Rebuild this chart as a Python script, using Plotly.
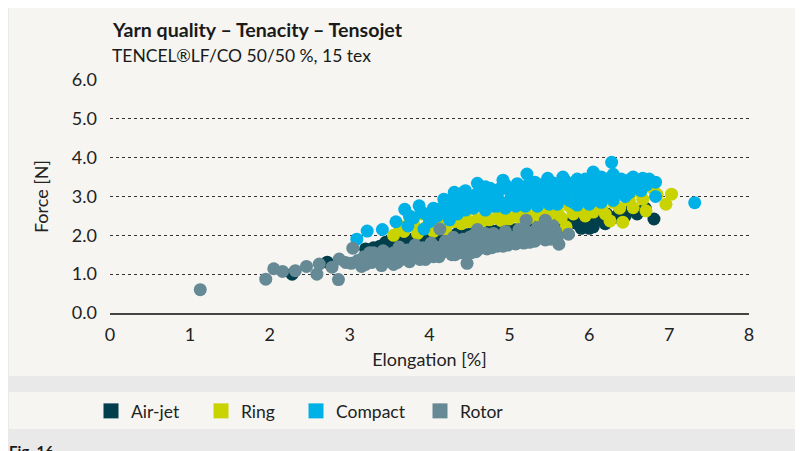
import plotly.graph_objects as go

# Tensojet tenacity, estimated from the figure
airjet_x = [2.28, 2.72, 3.2, 3.3, 3.38, 3.45, 3.52, 3.6, 3.68, 3.75, 3.85, 3.95, 4.05, 4.15, 4.25,
            4.35, 4.45, 4.55, 4.65, 4.75, 4.85, 4.95, 5.05, 5.15, 5.25, 5.35, 5.45, 5.5, 5.58, 5.65,
            5.7, 5.72, 5.8, 5.85, 5.9, 5.92, 6.0, 6.0, 6.05, 6.1, 6.15, 6.2, 6.22, 6.3, 6.38, 6.45,
            6.52, 6.6, 6.7, 6.81]
airjet_y = [1.0, 1.31, 1.65, 1.68, 1.72, 1.82, 1.78, 1.85, 1.8, 1.9, 1.88, 1.95, 1.9, 2.0, 1.98,
            2.05, 2.02, 2.1, 2.08, 2.15, 2.12, 2.2, 2.15, 2.22, 2.18, 2.25, 2.2, 2.32, 2.28, 2.38,
            2.12, 2.25, 2.4, 2.3, 2.18, 2.45, 2.35, 2.18, 2.22, 2.5, 2.4, 2.3, 2.55, 2.45, 2.6, 2.5,
            2.65, 2.55, 2.7, 2.42]

ring_x = [3.55, 3.62, 3.68, 3.75, 3.8, 3.85, 3.9, 3.95, 4.0, 4.05, 4.1, 4.15, 4.2, 4.25, 4.3,
          4.35, 4.4, 4.45, 4.5, 4.55, 4.6, 4.65, 4.7, 4.75, 4.8, 4.85, 4.9, 4.95, 5.0, 5.05,
          5.1, 5.15, 5.2, 5.25, 5.3, 5.35, 5.4, 5.45, 5.5, 5.55, 5.6, 5.65, 5.71, 5.75, 5.8,
          5.85, 5.9, 5.95, 6.0, 6.05, 6.1, 6.15, 6.2, 6.26, 6.3, 6.38, 6.42, 6.45, 6.5, 6.55,
          6.6, 6.67, 6.71, 6.8, 6.85, 6.96, 7.03]
ring_y = [2.0, 2.25, 2.1, 2.45, 2.3, 2.05, 2.55, 2.2, 2.4, 2.1, 2.6, 2.3, 2.15, 2.5, 2.35,
          2.65, 2.3, 2.45, 2.35, 2.7, 2.4, 2.35, 2.55, 2.4, 2.75, 2.45, 2.38, 2.6, 2.42, 2.8,
          2.5, 2.4, 2.65, 2.45, 2.85, 2.55, 2.42, 2.7, 2.5, 2.9, 2.6, 2.45, 2.22, 2.75, 2.55,
          2.95, 2.65, 2.5, 2.8, 2.6, 3.0, 2.7, 2.55, 2.37, 2.85, 2.7, 2.34, 3.05, 2.9, 2.71,
          3.15, 2.93, 2.63, 3.2, 3.05, 2.8, 3.06]

compact_x = [3.09, 3.22, 3.41, 3.58, 3.69, 3.73, 3.87, 3.93, 3.8, 3.95, 4.0, 4.05, 4.1, 4.18, 4.2,
             4.25, 4.31, 4.3, 4.35, 4.4, 4.45, 4.5, 4.55, 4.6, 4.6, 4.65, 4.7, 4.72, 4.76, 4.8,
             4.85, 4.9, 4.92, 4.95, 5.0, 5.02, 5.08, 5.1, 5.12, 5.18, 5.22, 5.22, 5.28, 5.32, 5.35,
             5.38, 5.42, 5.48, 5.5, 5.55, 5.6, 5.62, 5.67, 5.7, 5.75, 5.8, 5.85, 5.9, 5.95, 6.0,
             6.05, 6.05, 6.1, 6.15, 6.2, 6.28, 6.3, 6.3, 6.35, 6.4, 6.45, 6.51, 6.55, 6.61, 6.67,
             6.72, 6.83, 6.83, 7.32, 4.42, 4.58, 4.88, 5.15, 5.45, 5.72, 5.98, 6.22, 6.48,
             4.35, 4.45, 4.55, 4.65, 4.7, 4.8, 4.85, 4.95, 5.0, 5.05, 5.15, 5.2, 5.25, 5.3, 5.4,
             5.45, 5.5, 5.55, 5.6, 5.65, 5.7, 5.75, 5.8, 5.85, 5.9, 5.95, 6.0, 6.05, 6.1, 6.15,
             6.2, 6.25, 6.35, 6.4, 6.45, 6.5, 6.55, 6.6, 6.65, 6.75, 4.25, 4.15, 4.05, 3.9, 3.75,
             4.5, 4.75, 5.85, 6.3, 6.0]
compact_y = [1.9, 2.11, 2.15, 2.35, 2.67, 2.24, 2.76, 2.16, 2.45, 2.55, 2.35, 2.7, 2.5, 2.93, 2.6,
             2.4, 3.11, 2.75, 2.55, 2.9, 2.65, 3.0, 2.7, 3.34, 2.85, 3.1, 2.65, 2.95, 3.21, 2.75,
             3.05, 2.85, 3.42, 2.7, 3.15, 2.95, 2.75, 3.33, 3.05, 2.85, 3.58, 3.2, 2.95, 3.37, 2.75,
             3.1, 2.9, 3.47, 3.2, 3.0, 2.8, 3.3, 3.5, 3.1, 2.9, 3.35, 3.15, 2.95, 3.45, 3.2,
             3.63, 3.0, 3.35, 2.85, 3.25, 3.88, 3.57, 3.05, 3.4, 3.2, 3.0, 3.44, 3.25, 3.2, 3.47,
             3.3, 3.37, 3.0, 2.84, 3.1, 3.05, 3.2, 3.25, 3.3, 3.35, 3.4, 3.45, 3.35,
             3.0, 3.15, 2.95, 2.8, 3.25, 3.0, 2.75, 3.3, 2.8, 3.1, 2.95, 2.75, 3.35, 3.1, 3.3,
             3.05, 2.8, 3.35, 3.1, 2.95, 3.4, 3.2, 2.85, 3.45, 3.25, 3.05, 3.4, 2.9, 3.15, 3.5,
             3.05, 3.35, 3.15, 3.45, 3.3, 3.1, 3.5, 3.35, 3.15, 3.45, 2.85, 2.7, 2.45, 2.6, 2.5,
             2.75, 2.85, 2.78, 2.9, 2.8]

rotor_x = [1.13, 1.95, 2.05, 2.16, 2.32, 2.46, 2.59, 2.62, 2.78, 2.86, 2.87, 2.95, 3.02, 3.04, 3.1,
           3.18, 3.2, 3.25, 3.3, 3.35, 3.38, 3.42, 3.45, 3.5, 3.55, 3.58, 3.62, 3.65, 3.7, 3.72,
           3.78, 3.82, 3.85, 3.9, 3.92, 3.98, 4.02, 4.05, 4.1, 4.13, 4.15, 4.2, 4.22, 4.28, 4.3,
           4.35, 4.38, 4.42, 4.47, 4.48, 4.52, 4.55, 4.6, 4.62, 4.68, 4.72, 4.75, 4.8, 4.85, 4.88,
           4.92, 4.95, 5.0, 5.05, 5.08, 5.12, 5.15, 5.2, 5.21, 5.25, 5.3, 5.35, 5.4, 5.45, 5.45,
           5.5, 5.55, 5.6, 5.62, 5.74,
           3.15, 3.28, 3.4, 3.48, 3.6, 3.68, 3.75, 3.8, 3.88, 3.95, 4.0, 4.08, 4.12, 4.18, 4.25,
           4.32, 4.4, 4.45, 4.5, 4.58, 4.65, 4.7, 4.78, 4.82, 4.9, 4.98, 5.02, 5.1, 5.18, 5.22,
           5.28, 5.32, 5.38, 5.42, 5.48, 5.52, 5.58, 4.3, 4.6, 3.55, 3.3]
rotor_y = [0.6, 0.87, 1.14, 1.07, 1.09, 1.2, 1.0, 1.26, 1.18, 0.86, 1.39, 1.3, 1.28, 1.67, 1.35,
           1.45, 1.25, 1.55, 1.38, 1.48, 1.3, 1.6, 1.42, 1.33, 1.55, 1.45, 1.7, 1.38, 1.52, 1.62,
           1.42, 1.75, 1.55, 1.48, 1.68, 1.58, 1.8, 1.45, 1.65, 2.16, 1.55, 1.85, 1.7, 1.5, 1.95,
           1.62, 1.78, 1.9, 1.28, 1.68, 1.55, 2.0, 1.8, 1.65, 1.92, 1.65, 1.75, 2.05, 1.72, 1.88,
           1.72, 2.1, 1.8, 1.95, 1.78, 2.15, 1.85, 2.0, 2.39, 1.82, 1.92, 2.2, 2.05, 2.39, 1.88,
           2.1, 2.24, 1.95, 1.77, 2.03,
           1.2, 1.3, 1.22, 1.52, 1.3, 1.45, 1.32, 1.6, 1.38, 1.38, 1.5, 1.7, 1.45, 1.6, 1.8,
           1.5, 1.55, 1.75, 1.95, 1.58, 1.75, 2.05, 1.68, 1.85, 1.95, 1.75, 1.8, 1.85, 1.8, 2.1,
           1.85, 1.85, 1.95, 2.15, 1.98, 1.9, 2.1, 1.85, 2.15, 1.25, 1.55]

series = [
    ("Air-jet", airjet_x, airjet_y, "#003f4b"),
    ("Ring", ring_x, ring_y, "#c8d300"),
    ("Compact", compact_x, compact_y, "#00b1e7"),
    ("Rotor", rotor_x, rotor_y, "#668996"),
]
# left edge of each legend entry (screen px)
legend_left = [91, 201, 296, 420]

FONT = "Lato"
PANEL = "#f6f5f1"

fig = go.Figure()

for name, x, y, color in series:
    fig.add_trace(go.Scatter(x=x, y=y, mode="markers", name=name, showlegend=False,
                             marker=dict(color=color, size=13, line=dict(width=0))))

# screen pixel -> paper helpers (plot area sits at 110..749 x 80..313 on screen)
def px(v):
    return (v - 110) / 639.0

def py(v):
    return (313 - v) / 233.0

# legend entries drawn as squares, one legend each so the spacing can be set
legends = {}
for i, (name, x, y, color) in enumerate(series):
    key = "legend" if i == 0 else "legend%d" % (i + 1)
    fig.add_trace(go.Scatter(x=[None], y=[None], mode="markers", name=name, legend=key,
                             marker=dict(color=color, size=15, symbol="square")))
    legends[key] = dict(orientation="h", x=px(legend_left[i]), y=py(411),
                        xanchor="left", yanchor="middle", bgcolor="rgba(0,0,0,0)",
                        font=dict(family=FONT, size=17.5, color="#222222"),
                        itemsizing="trace")

# background panels
fig.add_shape(type="rect", xref="paper", yref="paper", layer="below",
              x0=px(9), x1=px(815), y0=py(376), y1=py(-10),
              fillcolor=PANEL, line=dict(width=0))
fig.add_shape(type="rect", xref="paper", yref="paper", layer="below",
              x0=px(9), x1=px(815), y0=py(429), y1=py(392),
              fillcolor=PANEL, line=dict(width=0))

fig.add_annotation(text="<b>Yarn quality – Tenacity – Tensojet</b>", xref="paper", yref="paper",
                   x=px(110), y=py(29), xanchor="left", yanchor="middle", showarrow=False,
                   font=dict(family=FONT, size=19.6, color="#1a1a1a"))
fig.add_annotation(text="TENCEL®LF/CO 50/50 %, 15 tex", xref="paper", yref="paper",
                   x=px(110), y=py(55), xanchor="left", yanchor="middle", showarrow=False,
                   font=dict(family=FONT, size=17.5, color="#1a1a1a"))
fig.add_annotation(text="<b>Fig. 16</b>", xref="paper", yref="paper",
                   x=px(7), y=py(440), xanchor="left", yanchor="top", showarrow=False,
                   font=dict(family=FONT, size=15, color="#1a1a1a"))

fig.update_xaxes(range=[0, 8], dtick=1, showgrid=False, zeroline=False,
                 showline=True, linecolor="#444444", linewidth=2,
                 ticks="", ticklabelstandoff=4,
                 tickfont=dict(family=FONT, size=18, color="#222222"),
                 title=dict(text="Elongation [%]", font=dict(family=FONT, size=18, color="#222222"),
                            standoff=10))
fig.update_yaxes(range=[0, 6], dtick=1, tickformat=".1f", showgrid=True,
                 gridcolor="#333333", griddash="dot", gridwidth=1, zeroline=False,
                 ticks="", ticklabelstandoff=12,
                 tickfont=dict(family=FONT, size=18, color="#222222"),
                 title=dict(text="Force [N]", font=dict(family=FONT, size=18, color="#222222"),
                            standoff=18))

fig.update_layout(
    width=803, height=451,
    margin=dict(l=102, r=62, t=72, b=146),
    paper_bgcolor="#e9e9e9",
    plot_bgcolor="rgba(0,0,0,0)",
    font=dict(family=FONT, color="#222222"),
    **legends,
)

fig.write_html("out.html")
